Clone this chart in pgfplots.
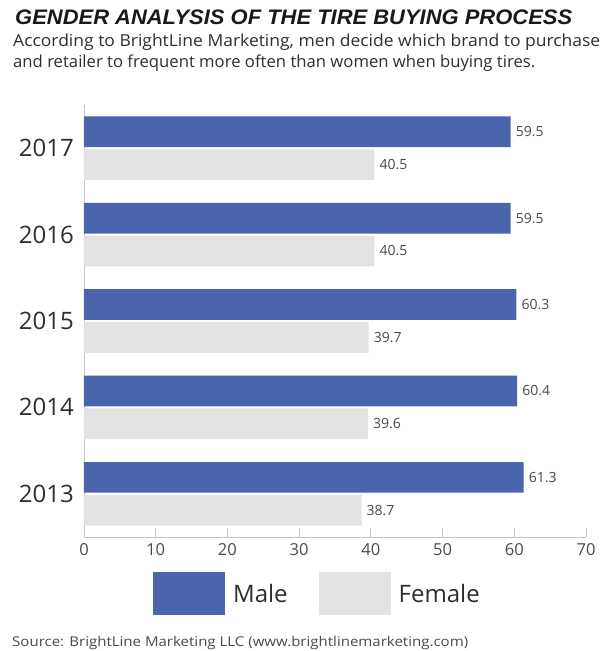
\documentclass[border=0pt]{standalone}
\usepackage{pgfplots}
\pgfplotsset{compat=1.18}
\usepackage{pgfplotstable}
\usepackage{graphicx}
\usepackage{fontspec}
\setmainfont{Open Sans}
\newfontfamily\titlefont{Liberation Sans}
\definecolor{maleblue}{HTML}{4A65AC}
\definecolor{femgray}{HTML}{E3E3E3}
\definecolor{axisgray}{HTML}{C4C4C4}
\definecolor{txtdark}{HTML}{2E2E2E}
\definecolor{txtmid}{HTML}{4A4A4A}

\pgfplotsset{boxlegend/.style={legend image code/.code={\fill[##1] (0pt,-21pt) rectangle (72pt,22pt);}}}

\pgfplotstableread{
yr male female
0 61.3 38.7
1 60.4 39.6
2 60.3 39.7
3 59.5 40.5
4 59.5 40.5
}\datatable

\begin{document}
\begin{tikzpicture}
\useasboundingbox (0,0) rectangle (603pt,651pt);
% title and subtitle
\node[anchor=base west, inner sep=0pt, text=black!90] at (15pt,626pt)
  {\resizebox{557pt}{\height}{\titlefont\bfseries\itshape\fontsize{21}{22}\selectfont GENDER ANALYSIS OF THE TIRE BUYING PROCESS}};
\node[anchor=base west, inner sep=0pt, text=txtdark] at (13pt,604pt)
  {\resizebox{587pt}{\height}{\fontsize{16.5}{18}\selectfont According to BrightLine Marketing, men decide which brand to purchase}};
\node[anchor=base west, inner sep=0pt, text=txtdark] at (13pt,583pt)
  {\resizebox{522pt}{\height}{\fontsize{16.5}{18}\selectfont and retailer to frequent more often than women when buying tires.}};
\node[anchor=base west, inner sep=0pt, text=txtmid] at (12pt,5pt)
  {\resizebox{456pt}{\height}{\fontsize{13.5}{14}\selectfont Source: BrightLine Marketing LLC (www.brightlinemarketing.com)}};

\begin{axis}[
  at={(84pt,114pt)}, anchor=south west,
  scale only axis, width=502pt, height=432pt,
  xmin=0, xmax=70, ymin=-0.5, ymax=4.5,
  clip=false,
  axis lines=left,
  axis line style={-, draw=axisgray, line width=0.9pt},
  xtick={0,10,...,70},
  ytick={0,1,2,3,4},
  yticklabels={2013,2014,2015,2016,2017},
  tick align=inside,
  major tick length=9pt,
  xtick style={draw=axisgray, line width=0.9pt},
  ytick style={draw=none},
  /pgf/number format/assume math mode=true,
  xticklabel style={font=\fontsize{16.5}{17}\selectfont, text=txtmid, inner sep=0pt, yshift=-6pt},
  yticklabel style={font=\fontsize{24}{26}\selectfont, text=txtdark, inner sep=0pt, xshift=-10pt},
  bar width=0.355,
  point meta=x,
  nodes near coords,
  every node near coord/.append style={font=\fontsize{14}{15}\selectfont, text=txtmid, anchor=west, inner sep=0pt, xshift=5pt},
  legend columns=2,
  legend cell align=left,
  legend style={at={(rel axis cs:0.463,-0.131)}, anchor=center, draw=none, fill=none, inner sep=0pt,
    font=\fontsize{24}{25}\selectfont, text=txtdark,
    nodes={inner sep=0pt},
    /tikz/every odd column/.append style={column sep=8pt},
    /tikz/every even column/.append style={column sep=31pt}},
]
\addplot[xbar, fill=maleblue, draw=none, bar shift=0.19, boxlegend,
  every node near coord/.append style={yshift=16.4pt}]
  table[x=male, y=yr]{\datatable};
\addplot[xbar, fill=femgray, draw=none, bar shift=-0.19, boxlegend,
  every node near coord/.append style={yshift=-16.4pt}]
  table[x=female, y=yr]{\datatable};
\legend{Male, Female}
\end{axis}
\end{tikzpicture}
\end{document}
